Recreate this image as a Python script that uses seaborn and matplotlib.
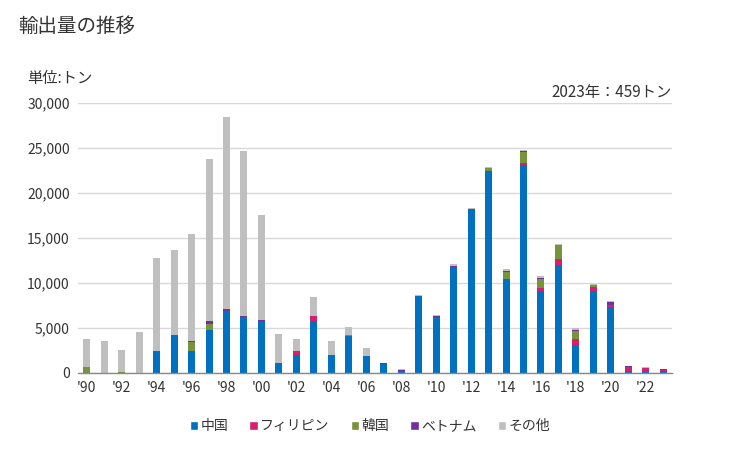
import numpy as np
import pandas as pd
import matplotlib
matplotlib.use("Agg")
import matplotlib.pyplot as plt
from matplotlib.patches import Patch
import seaborn as sns

sns.set_theme(style="white")
plt.rcParams["font.family"] = ["Noto Sans CJK JP", "DejaVu Sans"]

years = list(range(1990, 2024))
china = [0, 0, 0, 0, 2480, 4260, 2480, 4815, 6852, 6185, 5741, 1148,
         2000, 5741, 2037, 4148, 1926, 963, 260, 8593, 6259, 11778, 18259, 22482,
         10482, 23148, 9148, 12037, 3148, 9148, 7296, 185, 148, 230]
philippines = [0, 0, 0, 0, 0, 0, 0, 0, 0, 0, 0, 0,
               481, 630, 0, 0, 0, 0, 0, 0, 0, 0, 0, 0,
               0, 148, 259, 667, 593, 370, 296, 482, 445, 150]
korea = [700, 0, 150, 0, 0, 0, 1000, 667, 0, 0, 0, 0,
         0, 0, 0, 111, 0, 0, 0, 0, 0, 0, 0, 333,
         777, 1297, 1075, 1555, 963, 296, 0, 0, 0, 0]
vietnam = [0, 0, 0, 0, 0, 0, 110, 333, 296, 185, 111, 0,
           0, 0, 0, 0, 0, 111, 110, 0, 111, 111, 0, 0,
           111, 111, 111, 0, 111, 0, 333, 74, 0, 30]
others = [3115, 3593, 2440, 4593, 10335, 9445, 11893, 18000, 21334, 18334, 11741, 3222,
          1334, 2110, 1556, 889, 889, 74, 111, 111, 111, 185, 111, 111,
          222, 111, 148, 111, 148, 112, 112, 74, 110, 49]
tick_labels = ["'" + str(y)[2:] if (y - 1990) % 2 == 0 else "" for y in years]

series = [("中国", china, "#0070C0"),
          ("フィリピン", philippines, "#D6206A"),
          ("韓国", korea, "#77933C"),
          ("ベトナム", vietnam, "#7030A0"),
          ("その他", others, "#BFBFBF")]

df = pd.DataFrame({"year": [str(y) for y in years]})
cum = np.zeros(len(years))
cums = []
for name, vals, color in series:
    cum = cum + np.array(vals)
    cums.append((name, cum.copy(), color))

fig = plt.figure(figsize=(7.29, 4.5), dpi=100)
ax = fig.add_axes([78 / 729, 1 - 373 / 450, 594 / 729, 270 / 450])

# draw cumulative totals from the top layer down so each layer shows as a stack
for name, c, color in reversed(cums):
    sns.barplot(x=df["year"], y=c, color=color, width=0.4, saturation=1,
                linewidth=0, edgecolor="none", ax=ax, zorder=3)

ax.set_xlim(-0.5, len(years) - 0.5)
ax.set_ylim(0, 30000)
ax.set_yticks(range(0, 30001, 5000))
ax.set_yticklabels([f"{v:,}" for v in range(0, 30001, 5000)], fontsize=10, color="#333333")
ax.set_xticks(range(len(years)))
ax.set_xticklabels(tick_labels, fontsize=10, color="#333333")
ax.tick_params(axis="both", length=0, pad=6)
ax.set_xlabel("")
ax.set_ylabel("")
ax.yaxis.grid(True, color="#D9D9D9", linewidth=1, zorder=0)
for s in ["top", "right", "left"]:
    ax.spines[s].set_visible(False)
ax.spines["bottom"].set_color("#898989")
ax.spines["bottom"].set_linewidth(1)
ax.spines["bottom"].set_zorder(4)

fig.text(18 / 729, 1 - 26 / 450, "輸出量の推移", fontsize=14, color="#333333", va="center")
fig.text(27 / 729, 1 - 78 / 450, "単位:トン", fontsize=11, color="#333333", va="center")
fig.text(672 / 729, 1 - 92 / 450, "2023年：459トン", fontsize=11, color="#333333",
         va="center", ha="right")

handles = [Patch(facecolor=color, label=name) for name, vals, color in series]
fig.legend(handles=handles, loc="center", bbox_to_anchor=(370 / 729, 1 - 426 / 450),
           ncol=5, frameon=False, fontsize=10, handlelength=0.6, handleheight=0.6,
           handletextpad=0.2, columnspacing=1.5, labelcolor="#333333")

fig.savefig("out.png", dpi=100)
